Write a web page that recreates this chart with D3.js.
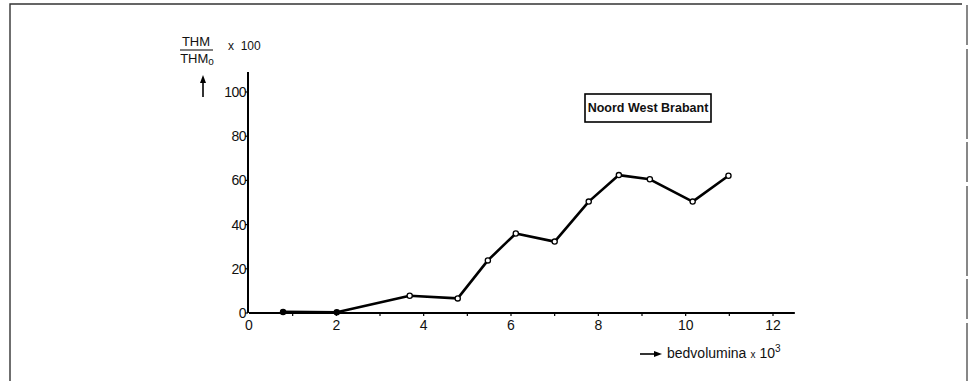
<!DOCTYPE html>
<html>
<head>
<meta charset="utf-8">
<script src="https://cdn.jsdelivr.net/npm/d3@7"></script>
<style>
  html, body { margin: 0; padding: 0; background: #fff; }
  svg { display: block; }
  text { font-family: "Liberation Sans", Arial, sans-serif; fill: #111; }
</style>
</head>
<body>
<svg id="chart" width="972" height="381"></svg>
<script>
// Bed volume (x 1000) against relative THM level (THM / THM0 x 100)
const bedVolume = [0.78, 2.01, 3.68, 4.78, 5.47, 6.11, 7.0, 7.78, 8.47, 9.18, 10.16, 10.98];
const thmRatio  = [0.5, 0.3, 7.8, 6.6, 23.8, 36.0, 32.3, 50.4, 62.4, 60.5, 50.4, 62.1];
const xTicks = [0, 2, 4, 6, 8, 10, 12];
const yTicks = [0, 20, 40, 60, 80, 100];
const legendLabel = "Noord West Brabant";

const svg = d3.select("#chart");

// Page frame
const frame = svg.append("g").attr("stroke", "#333").attr("stroke-width", 1.4).attr("fill", "none");
frame.append("path").attr("d", "M10,381 V4 H962");
frame.append("path").attr("d", "M967,5 V381").attr("stroke", "#555").attr("stroke-dasharray", "40,4,90,3");

const x = d3.scaleLinear().domain([0, 12]).range([249, 773]);
const y = d3.scaleLinear().domain([0, 100]).range([313, 92]);

// x axis
const xAxis = svg.append("g").attr("transform", `translate(0,${y(0)})`);
xAxis.append("line").attr("x1", x(0)).attr("x2", x(12.5)).attr("stroke", "#000").attr("stroke-width", 2);
xAxis.selectAll("line.minor").data(d3.range(1, 13)).join("line")
  .attr("class", "minor")
  .attr("x1", d => x(d)).attr("x2", d => x(d)).attr("y1", -1).attr("y2", 3)
  .attr("stroke", "#000").attr("stroke-width", 1.2);
xAxis.selectAll("text").data(xTicks).join("text")
  .attr("x", d => x(d)).attr("y", 17)
  .attr("text-anchor", "middle").attr("font-size", 14)
  .text(d => d);

// y axis
const yAxis = svg.append("g").attr("transform", `translate(${x(0) - 1},0)`);
yAxis.append("line").attr("y1", y(0)).attr("y2", y(109)).attr("stroke", "#000").attr("stroke-width", 2);
yAxis.selectAll("line.tick").data(yTicks).join("line")
  .attr("class", "tick")
  .attr("x1", -3).attr("x2", 0).attr("y1", d => y(d)).attr("y2", d => y(d))
  .attr("stroke", "#000").attr("stroke-width", 1.2);
yAxis.selectAll("text").data(yTicks).join("text")
  .attr("x", -2).attr("y", d => y(d)).attr("dy", "0.36em")
  .attr("text-anchor", "end").attr("font-size", 14).attr("letter-spacing", -0.5)
  .text(d => d);

// y axis title: THM / THM0 x 100 with upward arrow
const yt = svg.append("g");
yt.append("text").attr("x", 196).attr("y", 46).attr("text-anchor", "middle").attr("font-size", 13).text("THM");
yt.append("line").attr("x1", 180).attr("x2", 213).attr("y1", 50).attr("y2", 50).attr("stroke", "#000").attr("stroke-width", 1);
const t0 = yt.append("text").attr("x", 197).attr("y", 63).attr("text-anchor", "middle").attr("font-size", 13);
t0.append("tspan").text("THM");
t0.append("tspan").attr("font-size", 10).attr("dy", 2).text("o");
yt.append("text").attr("x", 228).attr("y", 50).attr("font-size", 12).attr("xml:space", "preserve").text("x  100");
yt.append("line").attr("x1", 203).attr("x2", 203).attr("y1", 97).attr("y2", 81).attr("stroke", "#000").attr("stroke-width", 1.6);
yt.append("path").attr("d", "M200,83 L203,75 L206,83 Z").attr("fill", "#000");

// x axis title with right arrow
const xt = svg.append("g");
xt.append("line").attr("x1", 640).attr("x2", 656).attr("y1", 354).attr("y2", 354).attr("stroke", "#000").attr("stroke-width", 1.6);
xt.append("path").attr("d", "M654,351 L662,354 L654,357 Z").attr("fill", "#000");
const xl = xt.append("text").attr("x", 667).attr("y", 358).attr("font-size", 14);
xl.append("tspan").text("bedvolumina");
xl.append("tspan").attr("font-size", 10).attr("dx", 4).text("x");
xl.append("tspan").attr("dx", 4).text("10");
xl.append("tspan").attr("font-size", 10).attr("dy", -6).text("3");

// Legend box
svg.append("rect").attr("x", 585).attr("y", 94).attr("width", 126).attr("height", 28)
  .attr("fill", "#fff").attr("stroke", "#000").attr("stroke-width", 1.6);
svg.append("text").attr("x", 648).attr("y", 112).attr("text-anchor", "middle")
  .attr("font-size", 12.5).attr("font-weight", "bold").attr("fill", "#111").text(legendLabel);

// Data line and markers
const pts = bedVolume.map((v, i) => [v, thmRatio[i]]);
svg.append("path").datum(pts)
  .attr("fill", "none").attr("stroke", "#000").attr("stroke-width", 2.6).attr("stroke-linejoin", "round")
  .attr("d", d3.line().x(d => x(d[0])).y(d => y(d[1])));
svg.selectAll("circle.pt").data(pts).join("circle")
  .attr("class", "pt")
  .attr("cx", d => x(d[0])).attr("cy", d => y(d[1])).attr("r", 2.6)
  .attr("fill", (d, i) => i < 2 ? "#000" : "#fff")
  .attr("stroke", "#000").attr("stroke-width", 1.3);
</script>
</body>
</html>
